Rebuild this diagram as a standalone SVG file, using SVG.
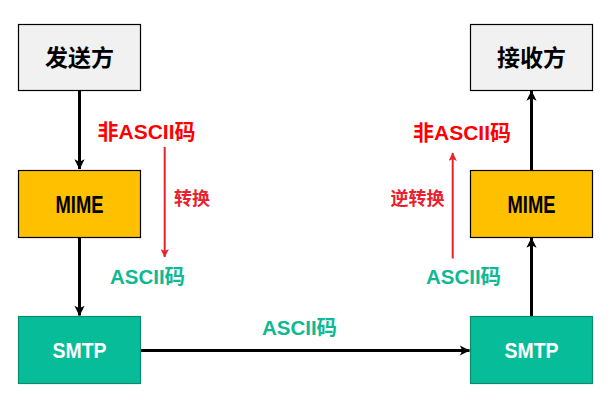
<svg xmlns="http://www.w3.org/2000/svg" width="615" height="401" viewBox="0 0 615 401">
<style>
.box{stroke:#000;stroke-width:1.2}
.party{fill:#f1f1f1}
.mime{fill:#ffc000}
.smtp{fill:#07bc98;stroke:#0b8c6f;stroke-width:1.2}
.t{font-family:"Liberation Sans","Noto Sans CJK SC",sans-serif;font-weight:bold;text-anchor:middle}
.cjk{font-family:"Noto Sans CJK SC","Liberation Sans",sans-serif;font-weight:bold;text-anchor:middle}
.red{fill:#ff0000}
.dred{fill:#e8212f}
.green{fill:#10b894}
.conn{stroke:#000;stroke-width:3;fill:none}
.rconn{stroke:#e8212f;stroke-width:2;fill:none}
</style>
<defs>
<marker id="ah" viewBox="0 0 10 10" refX="9.5" refY="5" markerWidth="5" markerHeight="3.4" orient="auto" markerUnits="strokeWidth">
<path d="M0,0 L10,5 L0,10 L2.5,5 Z" fill="#000"/>
</marker>
<marker id="rh" viewBox="0 0 10 10" refX="9.5" refY="5" markerWidth="5.5" markerHeight="4.2" orient="auto" markerUnits="strokeWidth">
<path d="M0,0 L10,5 L0,10 L2.5,5 Z" fill="#e8212f"/>
</marker>
</defs>
<g id="connectors">
<line class="conn" x1="79.5" y1="90.5" x2="79.5" y2="169" marker-end="url(#ah)"/>
<line class="conn" x1="79.5" y1="237.5" x2="79.5" y2="315.5" marker-end="url(#ah)"/>
<line class="conn" x1="140.5" y1="350.5" x2="469.5" y2="350.5" marker-end="url(#ah)"/>
<line class="conn" x1="531.5" y1="316" x2="531.5" y2="238" marker-end="url(#ah)"/>
<line class="conn" x1="531.5" y1="170" x2="531.5" y2="91" marker-end="url(#ah)"/>
<line class="rconn" x1="164.7" y1="147" x2="164.7" y2="257" marker-end="url(#rh)"/>
<line class="rconn" x1="452.7" y1="258.5" x2="452.7" y2="153" marker-end="url(#rh)"/>
</g>
<g id="sender">
<rect class="box party" x="18.5" y="24.5" width="122" height="66"/>
<text class="cjk" x="79.5" y="66" font-size="23" fill="#000">发送方</text>
</g>
<g id="receiver">
<rect class="box party" x="470.5" y="24.5" width="122" height="66"/>
<text class="cjk" x="531.5" y="66" font-size="23" fill="#000">接收方</text>
</g>
<g id="mime-left">
<rect class="box mime" x="18.5" y="170.5" width="122" height="67"/>
<text class="t" x="79.5" y="212.5" font-size="23" textLength="48" lengthAdjust="spacingAndGlyphs" fill="#000">MIME</text>
</g>
<g id="mime-right">
<rect class="box mime" x="470.5" y="170.5" width="122" height="67"/>
<text class="t" x="531.5" y="212.5" font-size="23" textLength="48" lengthAdjust="spacingAndGlyphs" fill="#000">MIME</text>
</g>
<g id="smtp-left">
<rect class="smtp" x="18.5" y="316.5" width="122" height="67"/>
<text class="t" x="79.5" y="357.5" font-size="22" textLength="54" lengthAdjust="spacingAndGlyphs" fill="#fff">SMTP</text>
</g>
<g id="smtp-right">
<rect class="smtp" x="470.5" y="316.5" width="122" height="67"/>
<text class="t" x="531.5" y="357.5" font-size="22" textLength="54" lengthAdjust="spacingAndGlyphs" fill="#fff">SMTP</text>
</g>
<g id="labels">
<text class="t red" x="146.5" y="139" font-size="21">非ASCII码</text>
<text class="cjk dred" x="192" y="205" font-size="18">转换</text>
<text class="t green" x="147.5" y="284" font-size="20.5">ASCII码</text>
<text class="t green" x="299.5" y="335" font-size="20.5">ASCII码</text>
<text class="t red" x="462" y="139.5" font-size="21">非ASCII码</text>
<text class="cjk dred" x="417.5" y="205" font-size="18">逆转换</text>
<text class="t green" x="463.5" y="284" font-size="20.5">ASCII码</text>
</g>
</svg>
